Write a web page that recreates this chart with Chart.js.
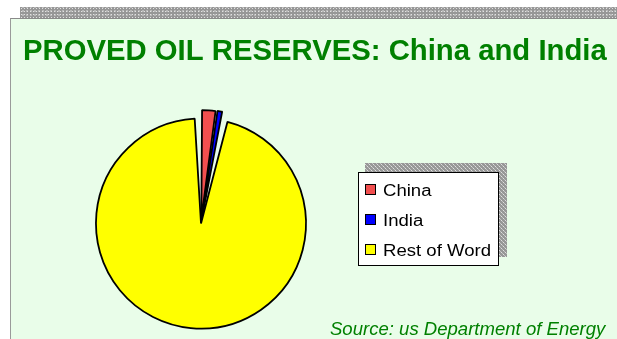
<!DOCTYPE html>
<html>
<head>
<meta charset="utf-8">
<script src="https://cdn.jsdelivr.net/npm/chart.js@4.4.1/dist/chart.umd.min.js"></script>
<style>
  html, body { margin: 0; padding: 0; background: #ffffff; }
  #stage { position: relative; width: 617px; height: 339px; overflow: hidden; }
  .band {
    position: absolute; left: 20px; top: 7px; width: 597px; height: 11px;
    background-color: #979797;
    background-image:
      radial-gradient(circle, #e2e2e2 0.6px, transparent 1px),
      radial-gradient(circle, #c4c4c4 0.6px, transparent 1px);
    background-size: 3px 3px, 4px 4px;
    background-position: 0 0, 1px 2px;
  }
  .panel {
    position: absolute; left: 10px; top: 18px; right: 0; bottom: 0;
    background: #e9fde9;
    border-left: 1px solid #9a9a9a;
    border-top: 1px solid #8a8a8a;
  }
  canvas { position: absolute; left: 0; top: 0; }
</style>
</head>
<body>
<div id="stage">
  <div class="band"></div>
  <div class="panel"></div>
  <canvas id="chart" width="617" height="339"></canvas>
</div>
<script>
// Proved oil reserves, share of world total (%)
const categories = ['China', 'India', 'Rest of Word'];
const shares = [2.2, 0.9, 96.9];
const sliceColors = ['#f24f4f', '#0000ff', '#ffff00'];
const explode = [18, 18, 0];

const titleText = 'PROVED OIL RESERVES: China and India';
const sourceText = 'Source: us Department of Energy';
const textGreen = '#008000';

// grey stippled fill used for the legend's backdrop
function stipple(ctx) {
  const tile = document.createElement('canvas');
  tile.width = 4; tile.height = 4;
  const t = tile.getContext('2d');
  t.fillStyle = '#979797';
  t.fillRect(0, 0, 4, 4);
  t.fillStyle = '#e0e0e0';
  t.fillRect(1, 0, 1, 1);
  t.fillRect(3, 2, 1, 1);
  t.fillStyle = '#c2c2c2';
  t.fillRect(0, 3, 1, 1);
  t.fillRect(2, 1, 1, 1);
  return ctx.createPattern(tile, 'repeat');
}

function wideText(ctx, text, x, y, font, color, sx) {
  ctx.save();
  ctx.font = font;
  ctx.fillStyle = color;
  ctx.textAlign = 'left';
  ctx.textBaseline = 'alphabetic';
  ctx.translate(x, y);
  ctx.scale(sx, 1);
  ctx.fillText(text, 0, 0);
  ctx.restore();
}

const decorations = {
  id: 'decorations',
  beforeDatasetsDraw(chart) {
    const ctx = chart.ctx;
    const ds = chart.data.datasets[0];
    // legend backdrop and frame
    ctx.save();
    ctx.fillStyle = stipple(ctx);
    ctx.fillRect(365, 163, 142, 94);
    ctx.fillStyle = '#ffffff';
    ctx.fillRect(358, 172, 141, 94);
    ctx.strokeStyle = '#000000';
    ctx.lineWidth = 1;
    ctx.strokeRect(358.5, 172.5, 140, 93);
    ctx.restore();
    // legend entries
    chart.data.labels.forEach((label, i) => {
      const rowY = 196 + i * 30;
      ctx.save();
      ctx.fillStyle = ds.backgroundColor[i];
      ctx.fillRect(365, rowY - 12, 11, 11);
      ctx.strokeStyle = '#000000';
      ctx.lineWidth = 1;
      ctx.strokeRect(365.5, rowY - 11.5, 10, 10);
      ctx.restore();
      wideText(ctx, label, 383, rowY, '16px "Liberation Sans", Arial, sans-serif', '#000000', 1.16);
    });
  },
  afterDraw(chart) {
    const ctx = chart.ctx;
    wideText(ctx, titleText, 23, 60, 'bold 29px "Liberation Sans", Arial, sans-serif', textGreen, 1.01);
    wideText(ctx, sourceText, 330, 335, 'italic 17.5px "Liberation Sans", Arial, sans-serif', textGreen, 1.06);
  }
};

new Chart(document.getElementById('chart'), {
  type: 'pie',
  data: {
    labels: categories,
    datasets: [{
      data: shares,
      backgroundColor: sliceColors,
      borderColor: '#000000',
      borderWidth: 1.8,
      offset: explode,
      hoverOffset: 0,
      spacing: 2.1,
      radius: 104
    }]
  },
  options: {
    responsive: false,
    devicePixelRatio: 1,
    animation: false,
    events: [],
    rotation: 0,
    radius: 104,
    layout: { padding: { left: 0, right: 215, top: 110, bottom: 2 } },
    plugins: {
      legend: { display: false },
      title: { display: false },
      tooltip: { enabled: false }
    }
  },
  plugins: [decorations]
});
</script>
</body>
</html>
